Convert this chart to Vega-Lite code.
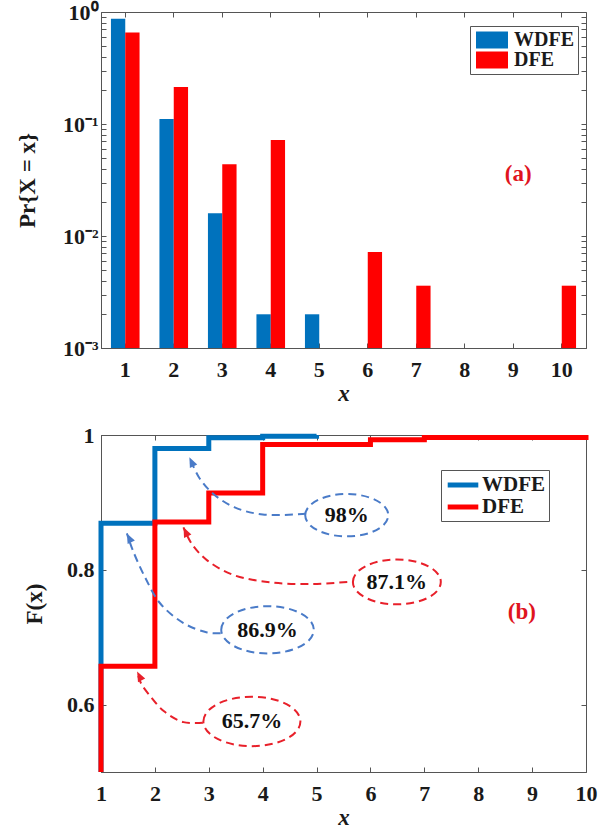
{
  "$schema": "https://vega.github.io/schema/vega-lite/v6.json",
  "background": "white",
  "padding": {"left": 15, "top": 0, "right": 20, "bottom": 5},
  "config": {
    "font": "Liberation Serif",
    "view": {"stroke": "#555555", "strokeWidth": 1},
    "axis": {
      "domainColor": "#555555", "tickColor": "#555555", "tickSize": -5,
      "labelColor": "#1a1a1a", "labelFont": "Liberation Serif", "labelFontWeight": "bold", "labelFontSize": 22,
      "labelFlush": false, "labelOverlap": false,
      "titleFont": "Liberation Serif", "titleFontWeight": "bold", "titleFontSize": 23, "titleColor": "#1a1a1a",
      "grid": false
    },
    "legend": {
      "labelFont": "Liberation Serif", "labelFontWeight": "bold", "labelFontSize": 21, "labelColor": "#1a1a1a",
      "strokeColor": "#555555", "fillColor": "white", "padding": 4, "rowPadding": 1
    }
  },
  "datasets": {
    "bars": [
      {"x": 1, "series": "WDFE", "p": 0.869}, {"x": 1, "series": "DFE", "p": 0.657},
      {"x": 2, "series": "WDFE", "p": 0.111}, {"x": 2, "series": "DFE", "p": 0.214},
      {"x": 3, "series": "WDFE", "p": 0.016}, {"x": 3, "series": "DFE", "p": 0.0437},
      {"x": 4, "series": "WDFE", "p": 0.002}, {"x": 4, "series": "DFE", "p": 0.072},
      {"x": 5, "series": "WDFE", "p": 0.002},
      {"x": 6, "series": "DFE", "p": 0.0072},
      {"x": 7, "series": "DFE", "p": 0.0036},
      {"x": 10, "series": "DFE", "p": 0.0036}
    ],
    "cdf": [
      {"series": "WDFE", "x": 1, "F": 0.5}, {"series": "WDFE", "x": 1, "F": 0.869},
      {"series": "WDFE", "x": 2, "F": 0.98}, {"series": "WDFE", "x": 3, "F": 0.996},
      {"series": "WDFE", "x": 4, "F": 0.998}, {"series": "WDFE", "x": 5, "F": 1.0},
      {"series": "DFE", "x": 1, "F": 0.5}, {"series": "DFE", "x": 1, "F": 0.657},
      {"series": "DFE", "x": 2, "F": 0.871}, {"series": "DFE", "x": 3, "F": 0.914},
      {"series": "DFE", "x": 4, "F": 0.986}, {"series": "DFE", "x": 6, "F": 0.993},
      {"series": "DFE", "x": 7, "F": 0.9964}, {"series": "DFE", "x": 10, "F": 1.0}
    ],
    "curves": [
      {"c": "98%", "series": "WDFE", "k": 0, "x": 4.80, "F": 0.883},
      {"c": "98%", "series": "WDFE", "k": 1, "x": 4.00, "F": 0.882},
      {"c": "98%", "series": "WDFE", "k": 2, "x": 3.47, "F": 0.893},
      {"c": "98%", "series": "WDFE", "k": 3, "x": 3.08, "F": 0.913},
      {"c": "98%", "series": "WDFE", "k": 4, "x": 2.82, "F": 0.937},
      {"c": "98%", "series": "WDFE", "k": 5, "x": 2.64, "F": 0.967},
      {"c": "87.1%", "series": "DFE", "k": 0, "x": 5.57, "F": 0.782},
      {"c": "87.1%", "series": "DFE", "k": 1, "x": 4.92, "F": 0.779},
      {"c": "87.1%", "series": "DFE", "k": 2, "x": 4.20, "F": 0.781},
      {"c": "87.1%", "series": "DFE", "k": 3, "x": 3.47, "F": 0.792},
      {"c": "87.1%", "series": "DFE", "k": 4, "x": 2.97, "F": 0.814},
      {"c": "87.1%", "series": "DFE", "k": 5, "x": 2.68, "F": 0.839},
      {"c": "87.1%", "series": "DFE", "k": 6, "x": 2.53, "F": 0.863},
      {"c": "86.9%", "series": "WDFE", "k": 0, "x": 3.22, "F": 0.706},
      {"c": "86.9%", "series": "WDFE", "k": 1, "x": 2.97, "F": 0.707},
      {"c": "86.9%", "series": "WDFE", "k": 2, "x": 2.53, "F": 0.721},
      {"c": "86.9%", "series": "WDFE", "k": 3, "x": 2.10, "F": 0.750},
      {"c": "86.9%", "series": "WDFE", "k": 4, "x": 1.81, "F": 0.790},
      {"c": "86.9%", "series": "WDFE", "k": 5, "x": 1.59, "F": 0.829},
      {"c": "86.9%", "series": "WDFE", "k": 6, "x": 1.48, "F": 0.854},
      {"c": "65.7%", "series": "DFE", "k": 0, "x": 2.89, "F": 0.573},
      {"c": "65.7%", "series": "DFE", "k": 1, "x": 2.53, "F": 0.574},
      {"c": "65.7%", "series": "DFE", "k": 2, "x": 2.17, "F": 0.590},
      {"c": "65.7%", "series": "DFE", "k": 3, "x": 1.92, "F": 0.612},
      {"c": "65.7%", "series": "DFE", "k": 4, "x": 1.74, "F": 0.632},
      {"c": "65.7%", "series": "DFE", "k": 5, "x": 1.67, "F": 0.649}
    ],
    "tips": [
      {"c": "98%", "series": "WDFE", "x": 2.64, "F": 0.967},
      {"c": "87.1%", "series": "DFE", "x": 2.53, "F": 0.863},
      {"c": "86.9%", "series": "WDFE", "x": 1.48, "F": 0.854},
      {"c": "65.7%", "series": "DFE", "x": 1.67, "F": 0.649}
    ],
    "notes": [
      {"t": "98%", "series": "WDFE", "x": 5.56, "F": 0.881},
      {"t": "87.1%", "series": "DFE", "x": 6.49, "F": 0.782},
      {"t": "86.9%", "series": "WDFE", "x": 4.09, "F": 0.711},
      {"t": "65.7%", "series": "DFE", "x": 3.80, "F": 0.575}
    ]
  },
  "spacing": 17,
  "resolve": {"scale": {"color": "independent"}, "legend": {"color": "independent"}},
  "vconcat": [
    {
      "width": 485,
      "height": 336,
      "layer": [
        {
          "data": {"name": "bars"},
          "mark": {"type": "bar"},
          "encoding": {
            "x": {"field": "x", "type": "ordinal", "scale": {"domain": [1,2,3,4,5,6,7,8,9,10], "paddingInner": 0.41, "paddingOuter": 0.205},
                  "axis": {"labelAngle": 0, "title": "x", "titleFontStyle": "italic", "labelPadding": 16, "titlePadding": 2}},
            "xOffset": {"field": "series", "type": "nominal", "sort": ["WDFE", "DFE"], "scale": {"domain": ["WDFE", "DFE"], "paddingInner": 0, "paddingOuter": 0}},
            "y": {"field": "p", "type": "quantitative", "scale": {"type": "log", "domain": [0.001, 1]},
                  "axis": {"values": [0.001,0.002,0.003,0.004,0.005,0.006,0.007,0.008,0.009,0.01,0.02,0.03,0.04,0.05,0.06,0.07,0.08,0.09,0.1,0.2,0.3,0.4,0.5,0.6,0.7,0.8,0.9,1],
                           "labelExpr": "datum.value == 1 ? '10⁰' : datum.value == 0.1 ? '10⁻¹' : datum.value == 0.01 ? '10⁻²' : datum.value == 0.001 ? '10⁻³' : ''",
                           "title": "Pr{X = x}", "titleX": -62, "labelPadding": 8}},
            "y2": {"datum": 0.001},
            "color": {"field": "series", "type": "nominal", "sort": ["WDFE", "DFE"],
                      "scale": {"domain": ["WDFE", "DFE"], "range": ["#0072BD", "#FF0000"]},
                      "legend": {"orient": "none", "legendX": 369, "legendY": 14, "title": null,
                                 "symbolType": "M-1.88,-1H1.88V1H-1.88Z", "symbolSize": 289, "symbolStrokeWidth": 0,
                                 "symbolOffset": 8, "labelOffset": 12, "labelFontSize": 20, "rowPadding": 0}}
          }
        },
        {
          "data": {"values": [{"x": 9, "p": 0.036, "t": "(a)"}]},
          "mark": {"type": "text", "dx": 5, "font": "Liberation Serif", "fontWeight": "bold", "fontSize": 23, "color": "#E0141E"},
          "encoding": {
            "x": {"field": "x", "type": "ordinal", "axis": {"orient": "top", "labels": false, "title": null, "domain": false}},
            "y": {"field": "p", "type": "quantitative",
                  "axis": {"orient": "right", "labels": false, "title": null, "domain": false,
                           "values": [0.001,0.002,0.003,0.004,0.005,0.006,0.007,0.008,0.009,0.01,0.02,0.03,0.04,0.05,0.06,0.07,0.08,0.09,0.1,0.2,0.3,0.4,0.5,0.6,0.7,0.8,0.9,1]}},
            "text": {"field": "t"}
          }
        }
      ],
      "resolve": {"axis": {"x": "independent", "y": "independent"}}
    },
    {
      "width": 485,
      "height": 337,
      "layer": [
        {
          "data": {"name": "cdf"},
          "mark": {"type": "line", "interpolate": "step-after", "strokeWidth": 5},
          "encoding": {
            "x": {"field": "x", "type": "quantitative", "scale": {"domain": [1, 10], "nice": false},
                  "axis": {"values": [1,2,3,4,5,6,7,8,9,10], "title": "x", "titleFontStyle": "italic", "labelPadding": 16, "titlePadding": 2}},
            "y": {"field": "F", "type": "quantitative", "scale": {"domain": [0.5, 1], "nice": false, "zero": false},
                  "axis": {"values": [0.6, 0.8, 1], "format": "~g", "title": "F(x)", "titleX": -55, "labelPadding": 12}},
            "color": {"field": "series", "type": "nominal", "sort": ["WDFE", "DFE"],
                      "scale": {"domain": ["WDFE", "DFE"], "range": ["#0072BD", "#FF0000"]},
                      "legend": {"orient": "none", "legendX": 340, "legendY": 35, "title": null,
                                 "symbolType": "M-1.8,0H1.8", "symbolSize": 289, "symbolStrokeWidth": 5,
                                 "symbolOffset": 7, "labelOffset": 8}}
          }
        },
        {
          "data": {"name": "curves"},
          "mark": {"type": "line", "interpolate": "catmull-rom", "strokeWidth": 2, "strokeDash": [8, 5]},
          "encoding": {
            "x": {"field": "x", "type": "quantitative", "axis": null},
            "y": {"field": "F", "type": "quantitative", "axis": null},
            "detail": {"field": "c"},
            "order": {"field": "k", "type": "quantitative"},
            "stroke": {"field": "series", "type": "nominal", "scale": {"domain": ["WDFE", "DFE"], "range": ["#4A7BC8", "#E8202A"]}, "legend": null}
          }
        },
        {
          "data": {"name": "tips"},
          "mark": {"type": "point", "shape": "M0,0L0.9,2.2L-0.9,2.2Z", "filled": true, "size": 81, "opacity": 1},
          "encoding": {
            "x": {"field": "x", "type": "quantitative", "axis": null},
            "y": {"field": "F", "type": "quantitative", "axis": null},
            "fill": {"field": "series", "type": "nominal", "scale": {"domain": ["WDFE", "DFE"], "range": ["#4A7BC8", "#E8202A"]}, "legend": null},
            "angle": {"field": "c", "type": "nominal", "scale": {"domain": ["98%", "87.1%", "86.9%", "65.7%"], "range": [-25, -27, -19, -18]}, "legend": null}
          }
        },
        {
          "data": {"name": "notes"},
          "mark": {"type": "point", "shape": "M-1,0A1,0.51,0,1,1,1,0A1,0.51,0,1,1,-1,0Z", "filled": false, "strokeWidth": 2, "strokeDash": [8, 5], "opacity": 1},
          "encoding": {
            "x": {"field": "x", "type": "quantitative", "axis": null},
            "y": {"field": "F", "type": "quantitative", "axis": null},
            "stroke": {"field": "series", "type": "nominal", "scale": {"domain": ["WDFE", "DFE"], "range": ["#4A7BC8", "#E8202A"]}, "legend": null},
            "size": {"field": "t", "type": "nominal", "scale": {"domain": ["98%", "87.1%", "86.9%", "65.7%"], "range": [6889, 9409, 9025, 9409]}, "legend": null}
          }
        },
        {
          "data": {"name": "notes"},
          "mark": {"type": "text", "font": "Liberation Serif", "fontWeight": "bold", "fontSize": 22, "color": "#111111"},
          "encoding": {
            "x": {"field": "x", "type": "quantitative", "axis": null},
            "y": {"field": "F", "type": "quantitative", "axis": null},
            "text": {"field": "t"}
          }
        },
        {
          "data": {"values": [{"x": 8.81, "F": 0.738, "t": "(b)"}]},
          "mark": {"type": "text", "font": "Liberation Serif", "fontWeight": "bold", "fontSize": 23, "color": "#E0141E"},
          "encoding": {
            "x": {"field": "x", "type": "quantitative", "axis": {"orient": "top", "labels": false, "title": null, "domain": false, "values": [1,2,3,4,5,6,7,8,9,10]}},
            "y": {"field": "F", "type": "quantitative", "axis": {"orient": "right", "labels": false, "title": null, "domain": false, "values": [0.6, 0.8, 1]}},
            "text": {"field": "t"}
          }
        }
      ],
      "resolve": {"axis": {"x": "independent", "y": "independent"}}
    }
  ]
}
